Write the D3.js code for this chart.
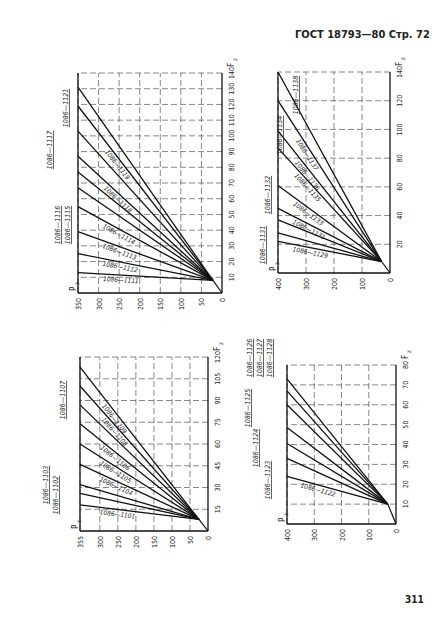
<!DOCTYPE html>
<html><head><meta charset="utf-8">
<script src="https://cdn.jsdelivr.net/npm/d3@7"></script>
<style>body{margin:0;background:#fff}svg{display:block}text{font-family:"DejaVu Sans Condensed","Liberation Sans Narrow",sans-serif;fill:#222}</style>
</head><body>
<svg id="c" width="448" height="633"></svg>
<script>
// Panel 1 (top-left)
const p1PzTicks=[0,50,100,150,200,250,300,350];
const p1FzTicks=[10,20,30,40,50,60,70,80,90,100,110,120,130,140];
const p1LineEnds=[13,25,39,55,67,77,87,103,119,131];
const p1LineLabels=["1086—1111","1086—1112","1086—1113","1086—1114","","","1086—1118","","1086—1119",""];
const p1SideLabels=["1086—1116","1086—1115","1086—1117","1086—1121"];
// Panel 2 (top-right)
const p2PzTicks=[0,100,200,300,400];
const p2FzTicks=[20,40,60,80,100,120,140];
const p2LineEnds=[22,28,37,45,61,87,99,120,140];
const p2LineLabels=["1086—1129","","","1086—1131","1086—1133","1086—1135","1086—1136","1086—1137",""];
const p2SideLabels=["1086—1131","1086—1132","1086—1134","1086—1138"];
// Panel 3 (bottom-left)
const p3PzTicks=[0,50,100,150,200,250,300,355];
const p3FzTicks=[15,30,45,60,75,90,105,120];
const p3LineEnds=[18,26,32,46,60,74,87,100,113];
const p3LineLabels=["1086—1101","","","1086—1104","1086—1105","1086—1106","","1086—1108","1086—1109"];
const p3SideLabels=["1086—1102","1086—1103","1086—1107"];
// Panel 4 (bottom-right)
const p4PzTicks=[0,100,200,300,400];
const p4FzTicks=[10,20,30,40,50,60,70,80];
const p4LineEnds=[24,33,40.5,48.6,60,67,73];
const p4LineLabels=["1086—1122","","","","","",""];
const p4SideLabels=["1086—1123","1086—1124","1086—1125","1086—1126","1086—1127","1086—1128"];

const svg=d3.select("#c");
function panel(o){
  const g=svg.append("g");
  const x=d3.scaleLinear().domain([0,o.pzMax]).range([o.x0,o.x1]);
  const y=d3.scaleLinear().domain([0,o.fzMax]).range([o.y0,o.y1]);
  g.selectAll(".gv").data(o.pz.filter(d=>d>0)).join("line").attr("x1",d=>x(d)).attr("x2",d=>x(d))
   .attr("y1",o.y0).attr("y2",o.y1).attr("stroke","#555").attr("stroke-width",0.7).attr("stroke-dasharray","6,3");
  g.selectAll(".gh").data(o.fz).join("line").attr("y1",d=>y(d)).attr("y2",d=>y(d))
   .attr("x1",o.x0).attr("x2",o.x1).attr("stroke","#555").attr("stroke-width",0.7).attr("stroke-dasharray","6,3");
  g.append("line").attr("x1",o.x0).attr("x2",o.x1).attr("y1",o.y0).attr("y2",o.y0).attr("stroke","#111").attr("stroke-width",1.3);
  g.append("line").attr("x1",o.x0).attr("x2",o.x0).attr("y1",o.y0).attr("y2",o.y1).attr("stroke","#111").attr("stroke-width",1.3);
  g.append("line").attr("x1",o.x1).attr("x2",o.x1).attr("y1",o.y0).attr("y2",o.y1).attr("stroke","#111").attr("stroke-width",1.3);
  g.selectAll(".tx").data(o.pz).join("text").attr("transform",d=>`translate(${x(d)+3},${o.y0+5}) rotate(-90)`)
   .attr("text-anchor","end").attr("font-size",7).text(d=>d);
  g.selectAll(".ty").data(o.fz).join("text").attr("transform",d=>`translate(${o.x0+12},${y(d)}) rotate(-90)`)
   .attr("text-anchor","middle").attr("font-size",7).text(d=>d);
  g.append("text").attr("transform",`translate(${o.x0+12},${o.y1-6}) rotate(-90)`).attr("text-anchor","start").attr("font-size",8).text("F");
  g.append("text").attr("transform",`translate(${o.x0+15},${o.y1-12}) rotate(-90)`).attr("font-size",6).text("z");
  g.append("text").attr("transform",`translate(${o.x1-2},${o.y0-2}) rotate(-90)`).attr("text-anchor","start").attr("font-size",8).text("P");
  g.append("text").attr("transform",`translate(${o.x1+1},${o.y0-8}) rotate(-90)`).attr("font-size",6).text("z");
  const sx=x(o.startPz), sy=y(o.startFz);
  g.append("line").attr("x1",o.x0).attr("y1",o.y0).attr("x2",sx).attr("y2",sy).attr("stroke","#111").attr("stroke-width",1.2);
  g.selectAll(".ln").data(o.ends).join("line").attr("x1",sx).attr("y1",sy)
   .attr("x2",x(o.pzMax)).attr("y2",d=>y(d)).attr("stroke","#111").attr("stroke-width",1.3);
  o.ends.forEach((e,i)=>{
    const t=o.labels[i]; if(!t) return;
    const ex=x(o.pzMax), ey=y(e);
    const f=0.68, mx=sx+(ex-sx)*f, my=sy+(ey-sy)*f;
    const ang=Math.atan2(ey-sy,ex-sx)*180/Math.PI+180;
    g.append("text").attr("transform",`translate(${mx},${my}) rotate(${ang}) translate(0,7)`)
     .attr("text-anchor","middle").attr("font-size",6.5).attr("font-style","italic").text(t);
  });
  o.side.forEach((t,i)=>{
    const [lx,ly]=o.sidePos[i];
    g.append("text").attr("transform",`translate(${lx},${ly}) rotate(-90)`).attr("text-anchor","middle")
     .attr("font-size",7).attr("font-style","italic").attr("text-decoration","underline").text(t);
  });
}
panel({x0:222,x1:78,y0:293,y1:73,pzMax:350,fzMax:140,pz:p1PzTicks,fz:p1FzTicks,ends:p1LineEnds,labels:p1LineLabels,
  startPz:22,startFz:8,side:p1SideLabels,sidePos:[[60,225],[70,225],[52,150],[68,108]]});
panel({x0:390,x1:278,y0:273,y1:72,pzMax:400,fzMax:140,pz:p2PzTicks,fz:p2FzTicks,ends:p2LineEnds,labels:p2LineLabels,
  startPz:30,startFz:8,side:p2SideLabels,sidePos:[[265,245],[270,195],[282,135],[298,95]]});
panel({x0:208,x1:80,y0:531,y1:357,pzMax:355,fzMax:120,pz:p3PzTicks,fz:p3FzTicks,ends:p3LineEnds,labels:p3LineLabels,
  startPz:25,startFz:8,side:p3SideLabels,sidePos:[[58,495],[48,485],[65,400]]});
panel({x0:396,x1:287,y0:524,y1:365,pzMax:400,fzMax:80,pz:p4PzTicks,fz:p4FzTicks,ends:p4LineEnds,labels:p4LineLabels,
  startPz:30,startFz:10,side:p4SideLabels,sidePos:[[270,480],[258,448],[250,408],[252,358],[262,358],[272,358]]});
svg.append("text").attr("x",295).attr("y",38).attr("font-size",11).attr("font-weight","bold").text("ГОСТ 18793—80   Стр. 72");
svg.append("text").attr("x",405).attr("y",603).attr("font-size",10).attr("font-weight","bold").text("311");
</script></body></html>
